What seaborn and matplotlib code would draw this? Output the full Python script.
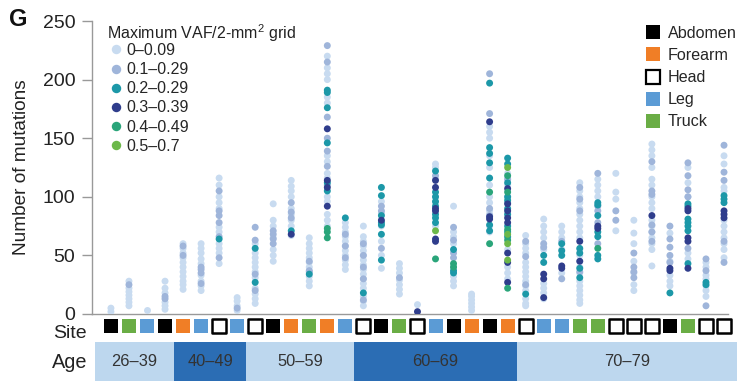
import numpy as np
import pandas as pd
import matplotlib
matplotlib.use("Agg")
import matplotlib.pyplot as plt
from matplotlib.lines import Line2D
import seaborn as sns

# ---------------- data ----------------
vaf_levels = ["0–0.09", "0.1–0.29", "0.2–0.29", "0.3–0.39", "0.4–0.49", "0.5–0.7"]
vaf_colors = ["#c8dbf0", "#9fb5da", "#1c98a8", "#2f3d8c", "#2aa57a", "#6cb84a"]

# number of mutations per 2-mm2 grid, per sample column (1..35), by max-VAF class
vaf_0_009 = {
    1: [2, 5], 2: [7, 10, 13, 16, 19, 22, 28], 3: [3], 4: [4, 7, 10, 18, 22, 28],
    5: [21, 25, 28, 32, 36, 40, 44, 48, 52, 56, 60], 6: [20, 24, 28, 33, 43, 47, 52, 56, 60],
    7: [43, 52, 56, 60, 70, 74, 90, 95, 100, 110, 116], 8: [3, 7, 11, 14],
    9: [9, 13, 17, 22, 31, 36, 40, 44, 48, 52, 60], 10: [45, 50, 55, 65, 75, 80, 94],
    11: [67, 75, 80, 85, 90, 100, 105, 109, 114], 12: [24, 28, 32, 40, 44, 48, 52, 56, 60, 65],
    13: [75, 80, 85, 96, 100, 116, 120, 130, 135, 180, 185, 200, 205, 210, 220],
    14: [38, 42, 46, 50, 54, 58, 62, 66, 70, 74, 78],
    15: [7, 11, 15, 22, 26, 30, 34, 38, 42, 46, 50, 54, 58, 62, 66, 75],
    16: [39, 50, 62, 75, 86, 96], 17: [17, 21, 25, 29, 35, 39, 43], 18: [8],
    19: [125, 128, 115, 100, 95, 75], 20: [24, 28, 32, 40, 60, 66, 70, 92],
    21: [3, 6, 9, 12, 15, 17], 22: [70, 75, 85, 88, 95, 100, 110, 125, 135, 150, 155, 160],
    23: [30, 35, 40, 55, 65, 85, 100, 110, 115, 120],
    24: [7, 9, 13, 20, 24, 28, 32, 36, 40, 44, 52, 56, 60, 67],
    25: [13, 18, 22, 26, 55, 65, 70, 75, 81], 26: [35, 55, 65, 70, 75],
    27: [9, 12, 16, 20, 24, 28, 35, 40, 45, 50, 55, 65, 70, 75, 80, 85, 90, 95, 100, 105, 112],
    28: [100, 110, 115, 105], 29: [120, 104, 98, 71], 30: [80, 69, 60, 45, 35, 25, 20],
    31: [145, 140, 135, 125, 115, 110, 100, 95, 90, 80, 75, 70, 65, 60, 55, 41],
    32: [69, 45, 33, 28, 24], 33: [125, 112, 100, 52, 47],
    34: [44, 40, 33, 30, 24, 20, 15], 35: [135, 128, 108, 105, 80, 75, 70, 65, 60, 55, 48],
}
vaf_01_029 = {
    2: [25], 4: [13, 15], 5: [50, 58], 6: [26, 35, 38, 40], 7: [48, 78, 84, 105, 66, 88],
    8: [5], 9: [63, 74, 20, 34], 10: [60, 64, 68, 71], 11: [95, 82, 87], 12: [37, 45, 36],
    13: [229, 215, 168, 139, 126, 110, 150], 14: [48, 58, 68], 15: [12, 30, 40, 50, 60],
    16: [56, 88, 92], 17: [31], 19: [118], 20: [48, 52, 63, 74], 22: [205, 171, 90, 84],
    23: [115, 95], 24: [49, 62, 25], 25: [60, 57], 26: [30, 62], 27: [108, 98, 88, 36],
    28: [120, 92, 88, 60, 78], 29: [88, 80], 30: [52, 40, 36, 31],
    31: [130, 105, 102, 76, 70, 62], 32: [75, 64, 57, 50, 44], 33: [129, 118, 106, 100, 56],
    34: [47, 37, 7], 35: [144, 121, 114, 44, 62],
}
vaf_02_029 = {
    7: [64], 9: [27, 56], 11: [71], 12: [34], 13: [191, 189, 176, 146, 105, 112], 14: [82],
    15: [18], 16: [108, 101, 84, 78, 76, 68, 46], 19: [122, 104, 100, 96, 92, 85, 78, 82],
    20: [55, 37, 35], 22: [197, 142, 129, 116, 76, 71, 137],
    23: [133, 128, 112, 100, 97, 90, 85, 75, 70, 66], 24: [17], 25: [50, 44],
    26: [60, 54, 50], 27: [56, 52, 39, 31], 28: [95, 93, 84, 70, 66, 47, 50],
    32: [18], 33: [94, 92, 81, 78, 75, 71, 43], 34: [27, 25], 35: [101, 98, 95],
}
vaf_03_039 = {
    11: [68], 13: [158, 92, 108, 114], 16: [80], 18: [2], 19: [114, 88, 90, 64, 62, 108],
    22: [164, 81, 83], 23: [107, 94, 88, 78, 52, 44, 27, 82], 25: [34, 30, 14],
    26: [41, 39], 27: [62, 45], 28: [73, 75], 31: [84], 32: [39, 37],
    33: [90, 88, 65, 62, 39], 35: [88, 85, 82],
}
vaf_04_049 = {
    13: [73, 70, 65], 19: [47], 20: [43, 40], 22: [104, 60], 23: [118, 104, 72, 63, 22],
    28: [56],
}
vaf_05_07 = {
    19: [71], 23: [125, 60, 46, 68],
}

site_names = ["Abdomen", "Forearm", "Head", "Leg", "Truck"]
site_colors = ["#000000", "#f07e26", "#ffffff", "#5b9bd5", "#6aad45"]
column_sites = ["Abdomen", "Truck", "Leg", "Abdomen", "Forearm", "Leg", "Head", "Leg",
                "Head", "Abdomen", "Forearm", "Truck", "Forearm", "Leg", "Head", "Abdomen",
                "Truck", "Head", "Leg", "Abdomen", "Forearm", "Abdomen", "Forearm", "Head",
                "Leg", "Leg", "Truck", "Truck", "Head", "Head", "Head", "Abdomen", "Truck",
                "Head", "Head"]

age_groups = ["26–39", "40–49", "50–59", "60–69", "70–79"]
age_counts = [4, 4, 6, 9, 12]
age_colors = ["#bdd7ee", "#2b6db4", "#bdd7ee", "#2b6db4", "#bdd7ee"]

# ---------------- build table ----------------
rows = []
for level, d in zip(vaf_levels, [vaf_0_009, vaf_01_029, vaf_02_029, vaf_03_039, vaf_04_049, vaf_05_07]):
    for col, vals in d.items():
        for v in vals:
            rows.append((col, v, level))
df = pd.DataFrame(rows, columns=["column", "mutations", "vaf"])
n_cols = len(column_sites)
columns = list(range(1, n_cols + 1))

# ---------------- figure ----------------
sns.set_theme(style="white")
plt.rcParams["font.family"] = ["Liberation Sans", "DejaVu Sans"]
plt.rcParams["mathtext.default"] = "regular"

W, H = 737, 386
fig = plt.figure(figsize=(W / 100, H / 100), dpi=100)

def fx(px):
    return px / W

def fy(py):
    return 1 - py / H

x_left_px, x_right_px = 92, 737
xlim = (-1.05, 34.72)
ax = fig.add_axes([fx(x_left_px), fy(314), fx(x_right_px - x_left_px), (314 - 21) / H])
sns.stripplot(data=df, x="column", y="mutations", hue="vaf", order=columns,
              hue_order=vaf_levels, palette=vaf_colors, jitter=False, dodge=False,
              size=5.0, linewidth=0, legend=False, ax=ax, zorder=3)
ax.set_xlim(*xlim)
ax.set_ylim(0, 250)
ax.set_yticks([0, 50, 100, 150, 200, 250])
ax.set_xticks([])
ax.set_xlabel("")
ax.set_ylabel("Number of mutations", fontsize=13.7, color="#222222", labelpad=9)
ax.tick_params(axis="y", labelsize=14, colors="#222222", length=7, width=1,
               color="#999999", direction="out", left=True, pad=5)
for s in ["top", "right"]:
    ax.spines[s].set_visible(False)
for s in ["left", "bottom"]:
    ax.spines[s].set_color("#999999")
    ax.spines[s].set_linewidth(1.0)
ax.spines["bottom"].set_bounds(xlim[0], 34.2)
ax.patch.set_alpha(0)

# VAF legend (title drawn as separate text for exact spacing)
fig.text(fx(107), fy(33), "Maximum VAF/2-mm$^2$ grid", ha="left", va="center",
         fontsize=11.5, color="#222222")
vaf_handles = [Line2D([], [], marker="o", linestyle="", markersize=6.8,
                      markerfacecolor=c, markeredgewidth=0) for c in vaf_colors]
leg1 = ax.legend(vaf_handles, vaf_levels,
                 loc="upper left", bbox_to_anchor=(fx(106), fy(43)),
                 bbox_transform=fig.transFigure, frameon=False, fontsize=11.5,
                 handlelength=1.2, handletextpad=0.1,
                 labelspacing=0.26, borderpad=0, borderaxespad=0)
ax.add_artist(leg1)

# Site legend
site_handles = []
for nm, c in zip(site_names, site_colors):
    site_handles.append(Line2D([], [], marker="s", linestyle="", markersize=10,
                               markerfacecolor=c, markeredgecolor="#000000" if nm == "Head" else c,
                               markeredgewidth=1.6 if nm == "Head" else 0))
leg2 = ax.legend(site_handles, site_names, loc="upper left",
                 bbox_to_anchor=(fx(645), fy(26)), bbox_transform=fig.transFigure,
                 frameon=False, fontsize=11.6, handlelength=0.95, handletextpad=0.45,
                 labelspacing=0.44, borderpad=0, borderaxespad=0)

# Site row
ax_site = fig.add_axes([fx(x_left_px), fy(334), fx(x_right_px - x_left_px), 16 / H])
site_df = pd.DataFrame({"pos": np.arange(n_cols), "y": 0.5, "site": column_sites})
for nm, c in zip(site_names, site_colors):
    sub = site_df[site_df["site"] == nm]
    ax_site.scatter(sub["pos"], sub["y"], marker="s", s=112, c=c,
                    edgecolors="#000000" if nm == "Head" else c,
                    linewidths=1.8 if nm == "Head" else 0)
ax_site.set_xlim(*xlim)
ax_site.set_ylim(0, 1)
ax_site.axis("off")

# Age row
ax_age = fig.add_axes([fx(x_left_px), fy(381), fx(x_right_px - x_left_px), 39 / H])
edges = np.concatenate([[0], np.cumsum(age_counts)]) - 0.5
edges[0] = -0.9
edges[-1] = xlim[1]
for i, (g, c) in enumerate(zip(age_groups, age_colors)):
    ax_age.bar(edges[i], 1, width=edges[i + 1] - edges[i], bottom=0, align="edge",
               color=c, linewidth=0)
    ax_age.text((edges[i] + edges[i + 1]) / 2, 0.5, g, ha="center", va="center",
                fontsize=11.8, color="#333333")
ax_age.set_xlim(*xlim)
ax_age.set_ylim(0, 1)
ax_age.axis("off")

fig.text(fx(87), fy(333), "Site", ha="right", va="center", fontsize=14.0, color="#222222")
fig.text(fx(87), fy(362), "Age", ha="right", va="center", fontsize=14.3, color="#222222")
fig.text(fx(9), fy(20), "G", ha="left", va="center", fontsize=17, fontweight="bold",
         color="#111111")

fig.savefig("out.png", dpi=100)
